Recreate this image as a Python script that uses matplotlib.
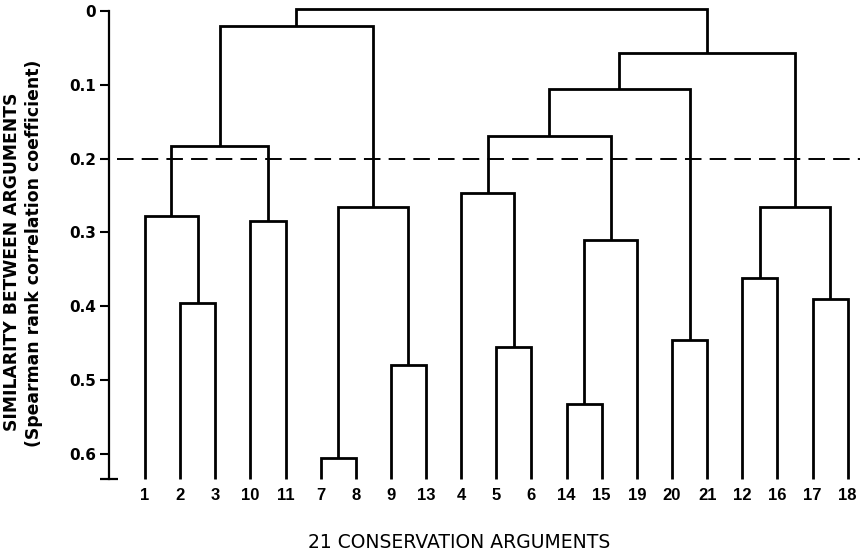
import matplotlib
matplotlib.use('Agg')
import matplotlib.pyplot as plt

# ---- data ----
leaf_labels = ['1', '2', '3', '10', '11', '7', '8', '9', '13', '4', '5', '6',
               '14', '15', '19', '20', '21', '12', '16', '17', '18']
merge_left = ['2', '1', '10', 'c1', '7', '9', 'c4', 'c3', '5', '4', '14', 'c10',
              'c9', '20', 'c12', '12', '17', 'c15', 'c14', 'c7']
merge_right = ['3', 'c0', '11', 'c2', '8', '13', 'c5', 'c6', '6', 'c8', '15', '19',
               'c11', '21', 'c13', '16', '18', 'c16', 'c17', 'c18']
merge_height = [0.396, 0.278, 0.284, 0.183, 0.605, 0.479, 0.265, 0.021, 0.455,
                0.247, 0.532, 0.310, 0.169, 0.446, 0.106, 0.362, 0.390, 0.265,
                0.057, -0.003]
leaf_base = 0.634
cut_level = 0.2
ytick_values = [0, 0.1, 0.2, 0.3, 0.4, 0.5, 0.6]
ytick_labels = ['0', '0.1', '0.2', '0.3', '0.4', '0.5', '0.6']

# ---- figure ----
fig = plt.figure(figsize=(8.6, 5.59), dpi=100)
ax = fig.add_axes([0.1273, 0.1431, 0.8727, 0.848])

pos = {lab: float(i) for i, lab in enumerate(leaf_labels)}
hgt = {lab: leaf_base for lab in leaf_labels}

lw = 2.0
for k, (a, b, h) in enumerate(zip(merge_left, merge_right, merge_height)):
    xa, xb = pos[a], pos[b]
    ax.plot([xa, xa, xb, xb], [hgt[a], h, h, hgt[b]], color='black', lw=lw,
            solid_joinstyle='miter', solid_capstyle='butt', clip_on=False)
    name = 'c%d' % k
    pos[name] = (xa + xb) / 2.0
    hgt[name] = h

ax.axhline(cut_level, color='black', lw=1.4, dashes=(8.5, 4.2), xmin=0.01, xmax=1.0)

ax.set_xlim(-1.01, 20.35)
ax.set_ylim(leaf_base, -0.0081)

for s in ['top', 'right', 'bottom']:
    ax.spines[s].set_visible(False)
ax.spines['left'].set_bounds(0, leaf_base)
ax.spines['left'].set_linewidth(1.6)

ax.set_yticks(ytick_values)
ax.set_yticklabels(ytick_labels, fontfamily='DejaVu Sans', fontweight='bold', fontsize=11)
ax.tick_params(axis='y', length=6.5, width=1.5, pad=3, direction='out')
ax.set_yticks([leaf_base], minor=True)
ax.tick_params(axis='y', which='minor', length=13, width=1.6, direction='inout')

ax.set_xticks(range(len(leaf_labels)))
ax.set_xticklabels(leaf_labels, fontfamily='Liberation Sans', fontweight='bold', fontsize=12)
ax.tick_params(axis='x', length=0, pad=6.5)

fig.text(459.5 / 860, 1 - 542.5 / 559, '21 CONSERVATION ARGUMENTS',
         ha='center', va='center', fontsize=13.5, fontfamily='DejaVu Sans')
fig.text(12.5 / 860, 1 - 261.5 / 559, 'SIMILARITY BETWEEN ARGUMENTS', rotation=90,
         ha='center', va='center', fontsize=12.3, fontweight='bold', fontfamily='DejaVu Sans')
fig.text(34.5 / 860, 1 - 253 / 559, '(Spearman rank correlation coefficient)', rotation=90,
         ha='center', va='center', fontsize=12.4, fontweight='bold', fontfamily='DejaVu Sans')

fig.savefig('out.png', dpi=100)
